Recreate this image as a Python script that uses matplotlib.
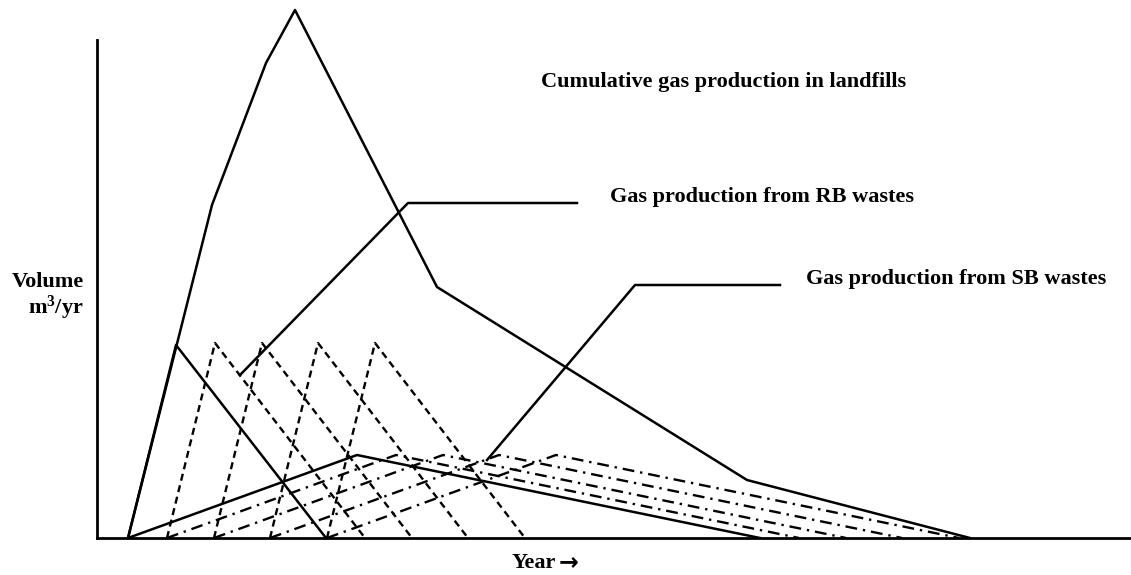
import matplotlib
matplotlib.use("Agg")
import matplotlib.pyplot as plt

# schematic values, x = time (arbitrary units), y = volume (arbitrary units)
cum_x = [31, 115, 169, 198, 340, 650, 873]
cum_y = [0, 333, 475, 528, 251, 58, 0]

rb_x = [31, 79, 229]
rb_y = [0, 193, 0]

sb_x = [31, 260, 663]
sb_y = [0, 83, 0]

# later waste placements, offsets from the first one
shifts = [39, 86, 142, 199]
rb_peak = 195

rb_lead_x = [143, 311, 480]
rb_lead_y = [163, 335, 335]
sb_lead_x = [390, 538, 683]
sb_lead_y = [78, 253, 253]

W, H = 1131, 575
fam = ['Liberation Serif', 'DejaVu Serif']
plt.rcParams['mathtext.default'] = 'regular'

fig = plt.figure(figsize=(W/100, H/100), dpi=100)
ax = fig.add_axes([97/W, 37/H, (W-97)/W, 538/H])
ax.set_xlim(0, W-97)
ax.set_ylim(0, 538)
ax.set_xticks([])
ax.set_yticks([])
for s in ['top', 'right']:
	ax.spines[s].set_visible(False)
ax.spines['left'].set_bounds(0, 498)
ax.spines['left'].set_linewidth(2)
ax.spines['bottom'].set_linewidth(2)

lw = 1.8
ax.plot(cum_x, cum_y, color='black', lw=lw, clip_on=False)
ax.plot(rb_x, rb_y, color='black', lw=lw)
ax.plot(sb_x, sb_y, color='black', lw=lw)

for d in shifts:
	ax.plot([rb_x[0]+d, rb_x[1]+d, rb_x[2]+d], [0, rb_peak, 0], color='black',
		lw=1.7, linestyle=(0, (3, 2)))
	ax.plot([sb_x[0]+d, sb_x[1]+d, sb_x[2]+d], sb_y, color='black',
		lw=1.7, linestyle=(0, (5, 2.5, 1, 2.5)))

ax.plot(rb_lead_x, rb_lead_y, color='black', lw=lw)
ax.plot(sb_lead_x, sb_lead_y, color='black', lw=lw)

tk = dict(fontsize=16, fontweight='bold', family=fam, va='center')
ax.text(444, 456, "Cumulative gas production in landfills", ha='left', **tk)
ax.text(513, 341, "Gas production from RB wastes", ha='left', **tk)
ax.text(709, 259, "Gas production from SB wastes", ha='left', **tk)

# y label, two lines in one text
fig.text(84/W, 1-297/H, "Volume\nm$^3$/yr", ha='right', multialignment='right',
	linespacing=1.05, **tk)
fig.text(556/W, 1-563/H, "Year", ha='right', **tk)
fig.text(559/W, 1-562/H, "\u2192", ha='left', fontsize=17, fontweight='bold',
	family=['DejaVu Sans'], va='center')

fig.savefig("out.png", dpi=100)
